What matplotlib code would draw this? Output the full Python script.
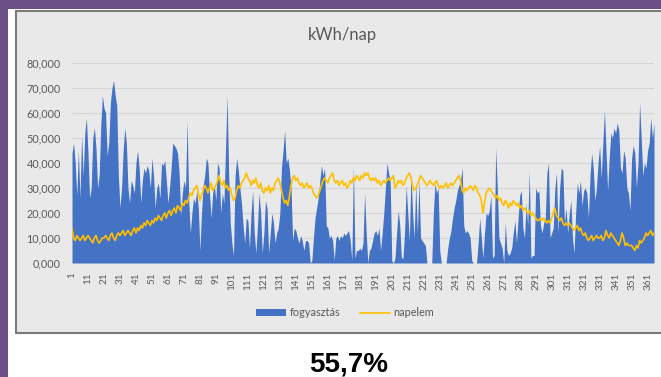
import matplotlib
matplotlib.use("Agg")
import matplotlib.pyplot as plt
from matplotlib.patches import Rectangle
import numpy as np

# Daily consumption (kWh/day), days 1..365
fogyasztas = [
    44, 48, 40, 27, 45, 26, 51, 35, 52, 58,
    44, 26, 30, 50, 54, 46, 30, 35, 55, 67,
    62, 60, 43, 48, 64, 70, 73, 67, 63, 35,
    22, 30, 45, 54, 48, 30, 24, 33, 31, 28,
    40, 45, 38, 24, 33, 38, 36, 39, 37, 30,
    42, 35, 22, 30, 32, 26, 40, 39, 41, 33,
    24, 30, 38, 48, 47, 46, 44, 36, 19, 28,
    33, 30, 57, 25, 12, 20, 26, 24, 29, 22,
    5, 20, 31, 35, 42, 40, 28, 18, 28, 31,
    25, 40, 38, 20, 28, 24, 45, 67, 35, 16,
    8, 3, 35, 42, 37, 30, 24, 15, 8, 18,
    17, 6, 20, 29, 12, 4, 15, 28, 20, 4,
    12, 25, 22, 4, 12, 20, 16, 8, 12, 14,
    20, 38, 45, 53, 40, 42, 37, 30, 9, 14,
    13, 10, 8, 11, 9, 5, 9, 9, 8, 0,
    1, 10, 18, 22, 26, 33, 39, 35, 38, 15,
    14, 10, 11, 9, 1, 10, 11, 9, 11, 10,
    12, 11, 12, 13, 9, 1, 39, 2, 5, 5,
    6, 5, 8, 28, 12, 0, 5, 6, 9, 12,
    13, 11, 14, 5, 12, 20, 30, 40, 36, 33,
    1, 0, 2, 12, 21, 15, 2, 2, 12, 31,
    20, 9, 36, 20, 10, 32, 12, 33, 10, 9,
    8, 7, 0, 0, 0, 0, 20, 32, 28, 30,
    5, 0, 0, 0, 0, 6, 10, 13, 18, 22,
    25, 29, 31, 33, 38, 15, 12, 13, 12, 10,
    1, 0, 0, 0, 8, 18, 10, 2, 12, 20,
    19, 21, 27, 2, 3, 46, 30, 10, 8, 6,
    0, 16, 5, 3, 4, 6, 12, 17, 8, 18,
    27, 29, 14, 10, 24, 15, 37, 2, 3, 3,
    30, 28, 29, 15, 12, 16, 18, 36, 40, 10,
    12, 14, 30, 36, 12, 30, 38, 37, 16, 22,
    12, 20, 25, 10, 4, 20, 32, 28, 33, 23,
    29, 30, 28, 18, 35, 44, 38, 25, 30, 40,
    47, 34, 48, 61, 45, 29, 42, 52, 50, 54,
    52, 56, 53, 38, 36, 45, 42, 30, 28, 21,
    42, 47, 44, 30, 40, 64, 50, 35, 40, 38,
    45, 48, 58, 50, 56,
]

# Daily solar production (kWh/day), days 1..365
napelem = [
    14, 10, 9, 11, 10, 9, 10, 11, 9, 10,
    11, 10, 9, 8, 10, 11, 9, 8, 9, 10,
    10, 11, 10, 9, 11, 12, 10, 9, 11, 12,
    11, 12, 13, 11, 12, 13, 12, 11, 13, 14,
    12, 14, 13, 15, 14, 16, 15, 17, 16, 15,
    17, 16, 18, 17, 19, 18, 17, 19, 20, 18,
    20, 21, 19, 21, 22, 20, 23, 22, 21, 24,
    23, 25, 24, 26, 28, 27, 29, 30, 31, 28,
    25, 27, 29, 31, 30, 28, 30, 32, 29, 30,
    31, 33, 35, 32, 31, 33, 30, 31, 29, 30,
    27, 25, 26, 29, 31, 30, 32, 33, 34, 36,
    34, 33, 31, 33, 32, 34, 31, 30, 32, 29,
    28, 30, 29, 31, 28, 30, 29, 32, 33, 34,
    32, 29, 26, 24, 25, 23, 27, 31, 34, 35,
    33, 34, 32, 31, 32, 30, 31, 32, 30, 31,
    30, 28, 27, 26, 27, 29, 31, 33, 34, 33,
    32, 34, 35, 36, 33, 32, 33, 31, 32, 33,
    31, 32, 30, 31, 33, 32, 34, 33, 35, 34,
    33, 35, 34, 36, 35, 36, 34, 33, 34, 33,
    34, 32, 33, 31, 32, 33, 32, 33, 34, 33,
    34, 35, 30, 31, 33, 32, 33, 31, 32, 34,
    35, 36, 34, 31, 29, 30, 31, 33, 35, 34,
    33, 32, 31, 32, 33, 32, 31, 32, 33, 31,
    30, 31, 30, 31, 32, 30, 31, 32, 31, 32,
    33, 34, 35, 33, 29, 28, 30, 29, 30, 31,
    30, 29, 31, 30, 28, 27, 25, 20, 24, 28,
    29, 30, 29, 28, 27, 26, 27, 25, 26, 24,
    23, 25, 24, 22, 24, 23, 25, 24, 23, 24,
    22, 23, 21, 22, 21, 20, 21, 19, 20, 19,
    18, 17, 17, 18, 17, 18, 17, 16, 17, 16,
    18, 20, 22, 19, 18, 17, 18, 16, 15, 16,
    15, 16, 15, 14, 13, 14, 15, 13, 14, 12,
    11, 12, 10, 9, 10, 11, 9, 10, 11, 10,
    10, 11, 9, 10, 13, 11, 10, 12, 11, 10,
    9, 8, 7, 9, 12, 10, 7, 8, 7, 7,
    7, 6, 5, 7, 6, 9, 8, 9, 10, 12,
    11, 12, 13, 11, 12,
]

napok = np.arange(1, len(fogyasztas) + 1)
x_ticks = list(range(1, 366, 10))
y_ticks = [0, 10, 20, 30, 40, 50, 60, 70, 80]

title = "kWh/nap"
arany = "55,7%"

W, H = 661, 377
fig = plt.figure(figsize=(W / 100, H / 100), dpi=100)
fig.patch.set_facecolor("#6b4e85")

def fx(px):
    return px / W

def fy(py):
    return 1 - py / H

# white slide panel and grey chart box
fig.add_artist(Rectangle((fx(8), 0), 1, fy(9), transform=fig.transFigure,
                         facecolor="white", edgecolor="none", zorder=0))
fig.add_artist(Rectangle((fx(16), fy(333)), 1, fy(11) - fy(333), transform=fig.transFigure,
                         facecolor="#e9e9e9", edgecolor="#7a7a7a", linewidth=1.5, zorder=0.5))

ax = fig.add_axes([fx(72), fy(263), fx(654) - fx(72), fy(63) - fy(263)])
ax.set_facecolor("none")
ax.set_zorder(1)

ax.fill_between(napok, 0, fogyasztas, color="#4472c4", linewidth=0, label="fogyasztás", zorder=2)
ax.plot(napok, napelem, color="#ffc000", linewidth=1.2, label="napelem", zorder=3)

ax.set_xlim(1, 365)
ax.set_ylim(0, 80)
ax.set_yticks(y_ticks)
ax.set_yticklabels([f"{v:.3f}".replace(".", ",") for v in y_ticks])
ax.set_xticks(x_ticks)
ax.set_xticklabels([str(t) for t in x_ticks], rotation=90)
ax.grid(axis="y", color="#d5d5d5", linewidth=0.8, zorder=1)
ax.set_axisbelow(True)
for s in ax.spines.values():
    s.set_visible(False)
ax.tick_params(axis="both", length=0, colors="#595959")
ax.tick_params(axis="y", labelsize=7.8, pad=8)
ax.tick_params(axis="x", labelsize=7.2, pad=7)
for lab in ax.get_xticklabels() + ax.get_yticklabels():
    lab.set_family("Lato")

fig.text(fx(342.5), fy(35), title, ha="center", va="center", fontsize=12,
         color="#595959", family="Lato")

handles, labels = ax.get_legend_handles_labels()
leg = fig.legend(handles, labels, loc="center", bbox_to_anchor=(fx(345), fy(313)),
                 ncol=2, frameon=False, handlelength=2.8, handleheight=0.6,
                 handletextpad=0.3, columnspacing=1.8,
                 prop={"family": "Lato", "size": 7.8})
for t in leg.get_texts():
    t.set_color("#595959")

fig.text(fx(349), fy(371), arany, ha="center", va="baseline", fontsize=20,
         fontweight="bold", color="black", family="Liberation Sans")

fig.savefig("out.png", dpi=100, facecolor=fig.get_facecolor())
